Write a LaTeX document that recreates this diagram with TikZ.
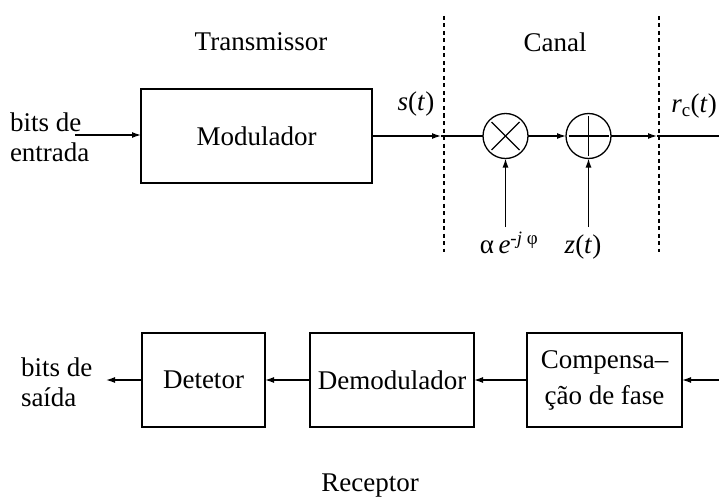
\documentclass[tikz,border=0pt]{standalone}
\usepackage{fontspec}
\setmainfont{Liberation Serif}
\usetikzlibrary{arrows.meta}
\begin{document}
\begin{tikzpicture}[x=1pt,y=-1pt,
  every node/.style={font=\fontsize{27}{31}\selectfont, inner sep=0pt, outer sep=0pt},
  blk/.style={draw, line width=1.3pt, minimum height=94pt, align=center},
  circ/.style={draw, circle, line width=1.3pt, minimum size=45pt},
  conn/.style={line width=1.3pt, -{Latex[length=9pt,width=6pt]}},
  plain/.style={line width=1.3pt},
  sep/.style={line width=1.5pt, dash pattern=on 4pt off 3.5pt},
  lbl/.style={align=left, font=\fontsize{27}{30}\selectfont}]
\useasboundingbox (0,0) rectangle (719,500);
% titles
\node (ttx) at (261,42) {Transmissor};
\node (tch) at (555,42) {Canal};
\node (trx) at (370,486) {Receptor};
% separators
\coordinate (d1t) at (444,16); \coordinate (d1b) at (444,252);
\coordinate (d2t) at (659,16); \coordinate (d2b) at (659,252);
\draw[sep] (d1t) -- (d1b);
\draw[sep] (d2t) -- (d2b);
% top row
\node[lbl, anchor=west] (bin) at (10,137) {bits de\\entrada};
\coordinate (inS) at (75,135);
\node[blk, minimum width=231pt] (mod) at (256.5,136) {Modulador};
\node[circ] (mul) at (505.5,136) {};
\node[circ] (add) at (588.5,136) {};
\coordinate (sT) at (441,136);
\coordinate (oT) at (657,136);
\coordinate (oE) at (719,136);
\draw[conn] (inS) -- (mod.west |- inS);
\draw[conn] (mod.east) -- (sT);
\draw[plain] (sT) -- (mul.west);
\draw[conn] (mul.east) -- (add.west);
\draw[conn] (add.east) -- (oT);
\draw[plain] (oT) -- (oE);
% symbols inside circles
\draw[line width=1.2pt] ([shift={(-14,-14)}]mul.center) -- ([shift={(14,14)}]mul.center);
\draw[line width=1.2pt] ([shift={(-14,14)}]mul.center) -- ([shift={(14,-14)}]mul.center);
\draw[line width=1.2pt] ([xshift=-20pt]add.center) -- ([xshift=20pt]add.center);
\draw[line width=1.2pt] ([yshift=-20pt]add.center) -- ([yshift=20pt]add.center);
% vertical inputs
\coordinate (mIn) at (505.5,227);
\coordinate (aIn) at (588.5,227);
\draw[conn] (mIn) -- (mul.south);
\draw[conn] (aIn) -- (add.south);
\node (alab) at (509,243) {α\,\textit{e}\textsuperscript{\textit{-j} φ}};
\node (zlab) at (583,247) {\textit{z}(\textit{t})};
\node (slab) at (416,104) {\textit{s}(\textit{t})};
\node (rlab) at (694,106) {\textit{r}\textsubscript{c}(\textit{t})};
% bottom row
\node[blk, minimum width=123pt] (det) at (203.5,380) {Detetor};
\node[blk, minimum width=164pt] (dem) at (392,380) {Demodulador};
\node[blk, minimum width=155pt, font=\fontsize{27}{36}\selectfont] (cmp) at (604.5,380) {Compensa–\\ção de fase};
\coordinate (rIn) at (719,380);
\coordinate (bOut) at (106,380);
\node[lbl, anchor=west] (bout) at (21,382) {bits de\\saída};
\draw[conn] (rIn) -- (cmp.east);
\draw[conn] (cmp.west) -- (dem.east);
\draw[conn] (dem.west) -- (det.east);
\draw[conn] (det.west) -- (bOut);
\end{tikzpicture}
\end{document}
